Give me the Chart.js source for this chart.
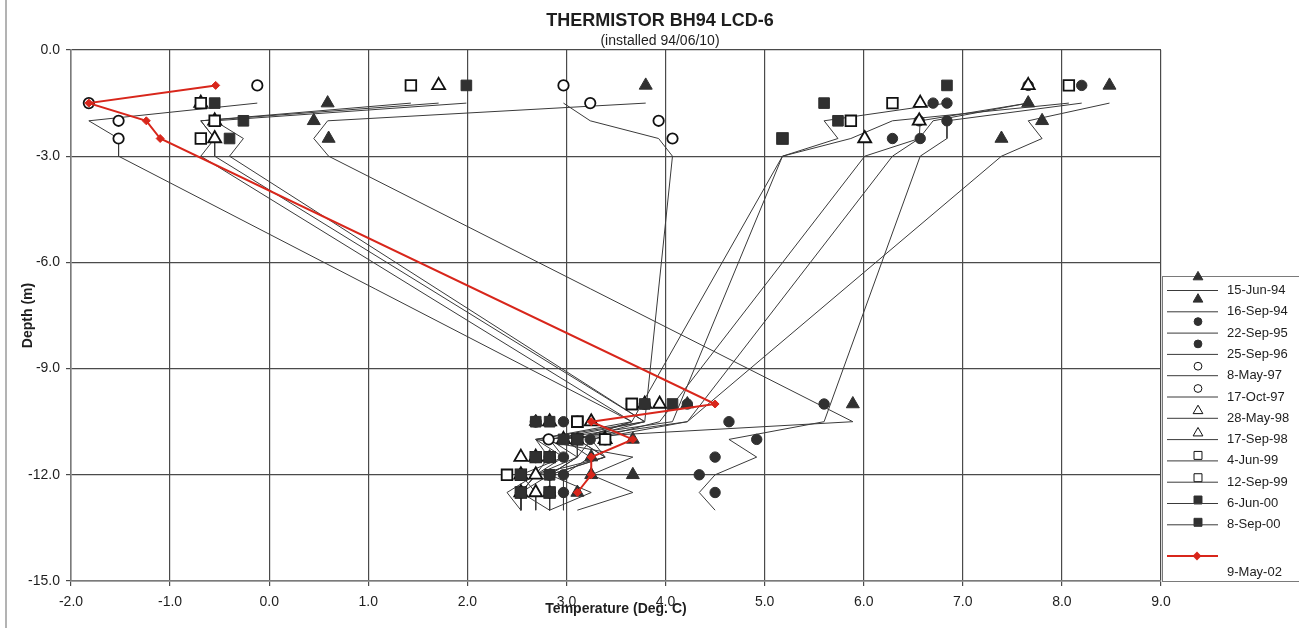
<!DOCTYPE html>
<html>
<head>
<meta charset="utf-8">
<title>Thermistor BH94 LCD-6</title>
<script src="https://cdn.jsdelivr.net/npm/chart.js@4.4.1/dist/chart.umd.min.js"></script>
<style>
  html, body { margin: 0; padding: 0; background: #fff; }
  #wrap { position: relative; width: 1299px; height: 628px; }
</style>
</head>
<body>
<div id="wrap"><canvas id="chart" width="1299" height="628"></canvas></div>
<script>
// Thermistor string readings, one array per survey date.
// First four values are the shallow beads, the last six the deep beads.
const markerDepths = [-1.0, -1.5, -2.0, -2.5, -10.0, -10.5, -11.0, -11.5, -12.0, -12.5];
// trace lines are plotted half a metre below the bead symbols
const traceDepths = [-1.5, -2.0, -2.5, -3.0, -10.5, -11.0, -11.5, -12.0, -12.5, -13.0];

const surveyDates = [
  "15-Jun-94", "16-Sep-94", "22-Sep-95", "25-Sep-96", "8-May-97", "17-Oct-97",
  "28-May-98", "17-Sep-98", "4-Jun-99", "12-Sep-99", "6-Jun-00", "8-Sep-00", "9-May-02",
];

const tJun94 = [3.80, 0.59, 0.45, 0.60, 5.89, 2.69, 3.67, 3.25, 3.67, 3.11];
const tSep94 = [8.48, 7.66, 7.80, 7.39, 4.22, 3.25, 3.11, 2.83, 3.25, 2.83];
const tSep95 = [8.20, 6.84, 6.84, 6.57, 5.60, 4.64, 4.92, 4.50, 4.34, 4.50];
const tSep96 = [7.66, 6.70, 6.56, 6.29, 4.22, 2.97, 3.24, 2.97, 2.97, 2.97];
const tMay97 = [-0.12, -1.82, -1.52, -1.52, 3.66, 2.69, 2.82, 2.69, 2.54, 2.54];
const tOct97 = [2.97, 3.24, 3.93, 4.07, 3.79, 3.11, 3.39, 2.83, 2.83, 2.83];
const tMay98 = [1.71, -0.69, -0.55, -0.55, 3.79, 2.83, 2.97, 2.54, 2.69, 2.69];
const tSep98 = [7.66, 6.57, 6.56, 6.01, 3.94, 3.25, 3.39, 2.69, 2.54, 2.54];
const tJun99 = [1.43, -0.69, -0.55, -0.69, 3.66, 3.11, 3.11, 2.69, 2.40, 2.54];
const tSep99 = [8.07, 6.29, 5.87, 5.18, 3.66, 3.11, 3.39, 2.83, 2.54, 2.83];
const tJun00 = [1.99, -0.55, -0.26, -0.40, 3.79, 2.69, 2.97, 2.69, 2.54, 2.54];
const tSep00 = [6.84, 5.60, 5.74, 5.18, 4.07, 2.83, 3.11, 2.83, 2.83, 2.83];
const tMay02 = [-0.54, -1.82, -1.24, -1.10, 4.50, 3.25, 3.67, 3.25, 3.25, 3.11];

const surveyTemps = [tJun94, tSep94, tSep95, tSep96, tMay97, tOct97, tMay98, tSep98, tJun99, tSep99, tJun00, tSep00, tMay02];

const xTicks = [-2, -1, 0, 1, 2, 3, 4, 5, 6, 7, 8, 9];
const yTicks = [0, -3, -6, -9, -12, -15];

// symbol per survey (the last one is the red line)
const symbolShape = ["triangle", "triangle", "circle", "circle", "circle", "circle",
  "triangle", "triangle", "rect", "rect", "rect", "rect", "rectRot"];
const symbolFilled = [true, true, true, true, false, false, false, false, false, false, true, true, true];

const FONT = "'Liberation Sans', Arial, Helvetica, sans-serif";
const INK = "#1e1e1e";
const DARK = "#303030";
const RED = "#d8261b";
const SIZE = { triangle: 7.5, circle: 5.2, rect: 7.5, rectRot: 4 };

function symbolOptions(i, scale = 1) {
  const shape = symbolShape[i];
  const filled = symbolFilled[i];
  const isRed = i === surveyDates.length - 1;
  return {
    pointStyle: shape,
    radius: SIZE[shape] * scale,
    fill: isRed ? RED : filled ? DARK : "#fff",
    stroke: isRed ? RED : filled ? DARK : "#111",
    borderWidth: filled ? 1 : 1.8,
  };
}

const datasets = [];
surveyDates.forEach((date, i) => {
  const temps = surveyTemps[i];
  const sym = symbolOptions(i);
  if (i === surveyDates.length - 1) {
    datasets.push({
      label: date,
      data: temps.map((t, k) => ({ x: t, y: markerDepths[k] })),
      showLine: true,
      borderColor: RED,
      borderWidth: 2,
      pointStyle: sym.pointStyle,
      pointRadius: sym.radius,
      pointBackgroundColor: RED,
      pointBorderColor: RED,
      pointBorderWidth: 1,
      order: 0,
    });
    return;
  }
  datasets.push({
    label: date + " trace",
    data: temps.map((t, k) => ({ x: t, y: traceDepths[k] })),
    showLine: true,
    borderColor: "#3a3a3a",
    borderWidth: 1,
    pointRadius: 0,
    order: 200,
  });
  datasets.push({
    label: date,
    data: temps.map((t, k) => ({ x: t, y: markerDepths[k] })),
    showLine: false,
    pointStyle: sym.pointStyle,
    pointRadius: sym.radius,
    pointBackgroundColor: sym.fill,
    pointBorderColor: sym.stroke,
    pointBorderWidth: sym.borderWidth,
    order: 100 - i,
  });
});

// titles, axis captions and the boxed key on the right
const chartDecor = {
  id: "chartDecor",
  afterDraw(chart) {
    const { ctx, chartArea } = chart;
    ctx.save();

    ctx.strokeStyle = "#9a9a9a";
    ctx.lineWidth = 1.5;
    ctx.beginPath();
    ctx.moveTo(6, 0);
    ctx.lineTo(6, 628);
    ctx.stroke();

    ctx.fillStyle = INK;
    ctx.textAlign = "center";
    ctx.textBaseline = "middle";
    ctx.font = `bold 18px ${FONT}`;
    ctx.fillText("THERMISTOR BH94 LCD-6", 660, 21);
    ctx.font = `14px ${FONT}`;
    ctx.fillText("(installed 94/06/10)", 660, 41);

    ctx.font = `bold 14px ${FONT}`;
    ctx.fillText("Temperature (Deg. C)", (chartArea.left + chartArea.right) / 2, 609);
    ctx.save();
    ctx.translate(28, (chartArea.top + chartArea.bottom) / 2);
    ctx.rotate(-Math.PI / 2);
    ctx.fillText("Depth (m)", 0, 0);
    ctx.restore();

    // key
    ctx.strokeStyle = "#7a7a7a";
    ctx.lineWidth = 1;
    ctx.fillStyle = "#fff";
    ctx.fillRect(1162.5, 276.5, 140, 305);
    ctx.strokeRect(1162.5, 276.5, 140, 305);

    ctx.font = `13px ${FONT}`;
    ctx.textAlign = "left";
    const n = surveyDates.length - 1;
    for (let i = 0; i < n; i++) {
      const sym = symbolOptions(i, 0.75);
      const my = 277 + i * 22.3;
      const ly = 290.5 + i * 21.3;
      ctx.fillStyle = sym.fill;
      ctx.strokeStyle = sym.stroke;
      Chart.helpers.drawPoint(ctx, { pointStyle: sym.pointStyle, radius: sym.radius, rotation: 0, borderWidth: sym.borderWidth }, 1198, my);
      ctx.strokeStyle = "#3a3a3a";
      ctx.lineWidth = 1;
      ctx.beginPath();
      ctx.moveTo(1167, ly);
      ctx.lineTo(1218, ly);
      ctx.stroke();
      ctx.fillStyle = INK;
      ctx.fillText(surveyDates[i], 1227, ly);
    }
    ctx.strokeStyle = RED;
    ctx.lineWidth = 2;
    ctx.beginPath();
    ctx.moveTo(1167, 556);
    ctx.lineTo(1218, 556);
    ctx.stroke();
    ctx.fillStyle = RED;
    ctx.strokeStyle = RED;
    Chart.helpers.drawPoint(ctx, { pointStyle: "rectRot", radius: 3, rotation: 0, borderWidth: 1 }, 1197, 556);
    ctx.fillStyle = INK;
    ctx.fillText(surveyDates[n], 1227, 572);

    ctx.restore();
  },
};

const gridStyle = { color: "#4a4a4a", lineWidth: 1.2, tickLength: 5 };

new Chart(document.getElementById("chart"), {
  type: "scatter",
  data: { datasets },
  options: {
    responsive: false,
    animation: false,
    events: [],
    layout: { padding: { top: 50, right: 138, left: 0, bottom: 0 } },
    plugins: {
      legend: { display: false },
      title: { display: false },
      tooltip: { enabled: false },
    },
    scales: {
      x: {
        type: "linear",
        min: -2,
        max: 9,
        afterBuildTicks: (scale) => { scale.ticks = xTicks.map((v) => ({ value: v })); },
        afterFit: (scale) => { scale.height = 47; },
        ticks: {
          color: INK,
          font: { family: FONT, size: 14 },
          padding: 8,
          maxRotation: 0,
          callback: (v) => Number(v).toFixed(1),
        },
        grid: gridStyle,
        border: { color: "#7a7a7a", width: 1.5 },
      },
      y: {
        type: "linear",
        min: -15,
        max: 0,
        afterBuildTicks: (scale) => { scale.ticks = yTicks.map((v) => ({ value: v })); },
        afterFit: (scale) => { scale.width = 71; },
        ticks: {
          color: INK,
          font: { family: FONT, size: 14 },
          padding: 6,
          callback: (v) => Number(v).toFixed(1),
        },
        grid: gridStyle,
        border: { color: "#7a7a7a", width: 1.5 },
      },
    },
  },
  plugins: [chartDecor],
});
</script>
</body>
</html>
